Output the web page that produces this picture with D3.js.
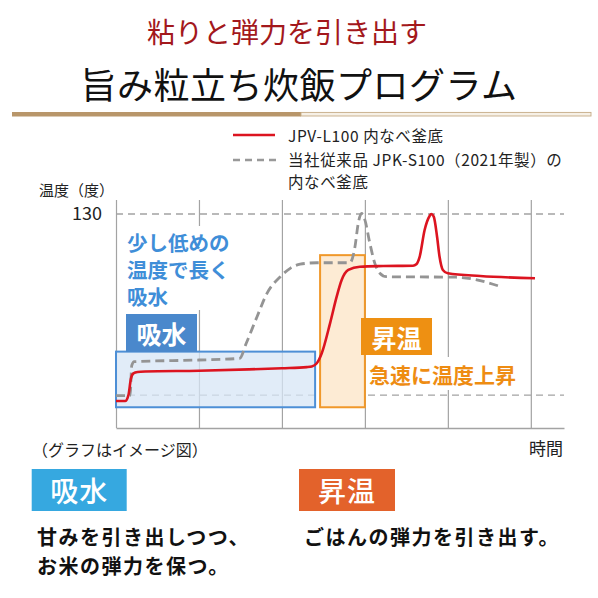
<!DOCTYPE html>
<html>
<head>
<meta charset="utf-8">
<script src="https://cdn.jsdelivr.net/npm/d3@7"></script>
<style>
  html, body { margin: 0; padding: 0; background: #fff; }
  svg { display: block; font-family: "Noto Sans CJK JP", "Noto Sans", sans-serif; }
  svg text { font-family: "Noto Sans CJK JP", "Noto Sans", sans-serif; }
</style>
</head>
<body>
<svg id="chart" width="598" height="598"></svg>
<script>
// ---------- data ----------
const titleSub = "粘りと弾力を引き出す";
const titleMain = "旨み粒立ち炊飯プログラム";
const legendNames = ["JPV-L100 内なべ釜底", "当社従来品 JPK-S100（2021年製）の", "内なべ釜底"];
const yAxisTitle = "温度（度）";
const yTickValues = [130];
const xAxisTitle = "時間";
const note = "（グラフはイメージ図）";
const timeTicks = [0, 1, 2, 3, 4, 5];
const refTemps = [20, 130];

// JPV-L100 (red)
const redTime = [0, 0.11, 0.15, 0.18, 0.21, 0.26, 0.35, 1.0, 1.6, 2.0, 2.3, 2.36, 2.42, 2.48, 2.58, 2.66, 2.72, 2.80, 2.94, 3.22, 3.58, 3.62, 3.66, 3.72, 3.78, 3.80, 3.83, 3.87, 3.90, 3.94, 4.0, 4.39, 5.05];
const redTemp = [16.4, 16.4, 20, 30, 33.2, 34.0, 34.3, 34.8, 35.6, 36.3, 37.0, 37.4, 39.3, 45.4, 63.6, 79.8, 89.9, 96.0, 98.0, 98.4, 98.6, 99.5, 104, 120.3, 128.8, 130, 128.4, 116.2, 104, 96, 94, 92.3, 91];

// JPK-S100 (gray dashed)
const grayTime = [0, 0.17, 0.19, 0.22, 1.0, 1.49, 1.57, 1.70, 1.82, 1.98, 2.10, 2.22, 2.42, 2.82, 2.88, 2.92, 2.96, 3.0, 3.06, 3.12, 3.18, 3.26, 4.1, 4.39, 4.61];
const grayTemp = [19.7, 19.7, 38, 40.3, 41.3, 42.3, 51.5, 67.6, 81.8, 91.9, 97, 99.5, 100.4, 100.4, 110, 124.4, 130.4, 126.4, 112.2, 100, 94, 91.9, 91.6, 89.5, 86.3];

// phases
const phaseNames = ["吸水", "昇温"];
const phaseStart = [0, 2.46];
const phaseEnd = [2.40, 3.0];
const phaseLow = [12.6, 12.6];
const phaseHigh = [46.4, 105];
const phaseNotes = [["少し低めの", "温度で長く", "吸水"], ["急速に温度上昇"]];
const bottomTexts = [["甘みを引き出しつつ、", "お米の弾力を保つ。"], ["ごはんの弾力を引き出す。"]];

// ---------- drawing ----------
const svg = d3.select("#chart");

const x = d3.scaleLinear().domain([0, 5.4]).range([116, 564]);
const y = d3.scaleLinear().domain([0, 130]).range([428, 214]);
const yTop = 138.5;

// titles
svg.append("text").attr("x", 287).attr("y", 31).attr("text-anchor", "middle")
  .attr("dominant-baseline", "central").attr("font-size", 28).attr("fill", "#a3181c")
  .attr("font-weight", 400).text(titleSub);
svg.append("text").attr("x", 299).attr("y", 83).attr("text-anchor", "middle")
  .attr("dominant-baseline", "central").attr("font-size", 36).attr("letter-spacing", 0.5).attr("fill", "#111")
  .attr("font-weight", 400).text(titleMain);

// rule
svg.append("rect").attr("x", 12).attr("y", 112).attr("width", 289).attr("height", 4.5).attr("fill", "#b8966a");
svg.append("rect").attr("x", 301).attr("y", 112.4).attr("width", 290).attr("height", 3.6)
  .attr("fill", "#f6f0e6").attr("stroke", "#c6ab85").attr("stroke-width", 0.9);

// legend
svg.append("line").attr("x1", 233).attr("x2", 275).attr("y1", 135).attr("y2", 135)
  .attr("stroke", "#dc1420").attr("stroke-width", 2.6);
svg.append("line").attr("x1", 233).attr("x2", 279).attr("y1", 160).attr("y2", 160)
  .attr("stroke", "#999").attr("stroke-width", 2.6).attr("stroke-dasharray", "7,5");
const legY = [135, 158.5, 181];
legendNames.forEach((t, i) => {
  svg.append("text").attr("x", 288).attr("y", legY[i]).attr("dominant-baseline", "central")
    .attr("font-size", 15.5).attr("letter-spacing", 0.6).attr("fill", "#222").text(t);
});

// axes / grid
const g = svg.append("g");
const xAxis = d3.axisBottom(x).tickValues(timeTicks).tickFormat("")
  .tickSize(-(y(0) - y(yTop))).tickSizeOuter(0);
const xg = g.append("g").attr("transform", `translate(0,${y(0)})`).call(xAxis);
xg.selectAll("line").attr("stroke", "#a3a3a3").attr("stroke-width", 1.2);
xg.select(".domain").attr("stroke", "#a3a3a3").attr("stroke-width", 1.4);

const yAxis = d3.axisLeft(y).tickValues(yTickValues).tickSize(0).tickPadding(14);
const yg = g.append("g").attr("transform", `translate(${x(0)},0)`).call(yAxis);
yg.attr("font-family", null);
yg.select(".domain").remove();
yg.selectAll("text").attr("font-size", 18).attr("fill", "#222").attr("font-weight", 400);

// reference dashed lines
g.selectAll(".ref").data(refTemps).enter().append("line")
  .attr("x1", x(0)).attr("x2", x(5.4)).attr("y1", d => y(d)).attr("y2", d => y(d))
  .attr("stroke", "#a3a3a3").attr("stroke-width", 1.3).attr("stroke-dasharray", "7,5");

// axis titles
svg.append("text").attr("x", 39).attr("y", 189.5).attr("dominant-baseline", "central")
  .attr("font-size", 15).attr("fill", "#222").text(yAxisTitle);
svg.append("text").attr("x", 563).attr("y", 447).attr("text-anchor", "end").attr("dominant-baseline", "central")
  .attr("font-size", 17).attr("fill", "#222").text(xAxisTitle);
svg.append("text").attr("x", 32).attr("y", 449).attr("dominant-baseline", "central")
  .attr("font-size", 16).attr("fill", "#222").text(note);

// phase boxes
const phaseFill = ["#d7e5f5", "#fdebd4"];
const phaseStroke = ["#4d8fd6", "#f0982a"];
const phaseFillOpacity = [0.75, 1];
phaseNames.forEach((n, i) => {
  g.append("rect").attr("x", x(phaseStart[i])).attr("y", y(phaseHigh[i]))
    .attr("width", x(phaseEnd[i]) - x(phaseStart[i])).attr("height", y(phaseLow[i]) - y(phaseHigh[i]))
    .attr("fill", phaseFill[i]).attr("fill-opacity", phaseFillOpacity[i])
    .attr("stroke", phaseStroke[i]).attr("stroke-width", 2);
});

// annotations: blue note
const blue = "#3f8ed8", orange = "#ee8c12";
g.append("rect").attr("x", 123).attr("y", 226).attr("width", 112).attr("height", 84).attr("fill", "#fff");
phaseNotes[0].forEach((t, i) => {
  g.append("text").attr("x", 127).attr("y", 241.5 + i * 27.3).attr("dominant-baseline", "central")
    .attr("font-size", 20.5).attr("font-weight", 700).attr("fill", blue).text(t);
});
// phase labels in chart
const labBox = [[126, 314, 71, 38], [361, 318, 71, 37]];
const labFill = ["#4a88cc", "#ee9012"];
phaseNames.forEach((n, i) => {
  const b = labBox[i];
  g.append("rect").attr("x", b[0]).attr("y", b[1]).attr("width", b[2]).attr("height", b[3]).attr("fill", labFill[i]);
  g.append("text").attr("x", b[0] + b[2] / 2).attr("y", b[1] + b[3] / 2).attr("text-anchor", "middle")
    .attr("dominant-baseline", "central").attr("font-size", 25).attr("font-weight", 700)
    .attr("fill", "#fff").text(n);
});
g.append("rect").attr("x", 366).attr("y", 357).attr("width", 156).attr("height", 33).attr("fill", "#fff");
g.append("text").attr("x", 369).attr("y", 373.5).attr("dominant-baseline", "central")
  .attr("font-size", 21).attr("font-weight", 700).attr("fill", orange).text(phaseNotes[1][0]);

// series
const line = d3.line().x(d => x(d[0])).y(d => y(d[1])).curve(d3.curveMonotoneX);
const grayData = grayTime.map((t, i) => [t, grayTemp[i]]);
const redData = redTime.map((t, i) => [t, redTemp[i]]);
g.append("path").datum(grayData).attr("d", line).attr("fill", "none")
  .attr("stroke", "#949494").attr("stroke-width", 2.8).attr("stroke-dasharray", "9,5");
g.append("path").datum(redData).attr("d", line).attr("fill", "none")
  .attr("stroke", "#dc1420").attr("stroke-width", 2.6).attr("stroke-linejoin", "round");

// bottom section
const botBox = [[31.7, 469, 95, 42], [299, 469, 96, 42]];
const botFill = ["#36a8e0", "#e3622b"];
phaseNames.forEach((n, i) => {
  const b = botBox[i];
  svg.append("rect").attr("x", b[0]).attr("y", b[1]).attr("width", b[2]).attr("height", b[3]).attr("fill", botFill[i]);
  svg.append("text").attr("x", b[0] + b[2] / 2).attr("y", b[1] + b[3] / 2).attr("text-anchor", "middle")
    .attr("dominant-baseline", "central").attr("font-size", 28).attr("font-weight", 500)
    .attr("letter-spacing", 1).attr("fill", "#fff").text(n);
  bottomTexts[i].forEach((t, j) => {
    svg.append("text").attr("x", i === 0 ? 37 : 304).attr("y", 536 + j * 29).attr("dominant-baseline", "central")
      .attr("font-size", 20).attr("font-weight", 700).attr("letter-spacing", 1.5).attr("fill", "#111").text(t);
  });
});
</script>
</body>
</html>
